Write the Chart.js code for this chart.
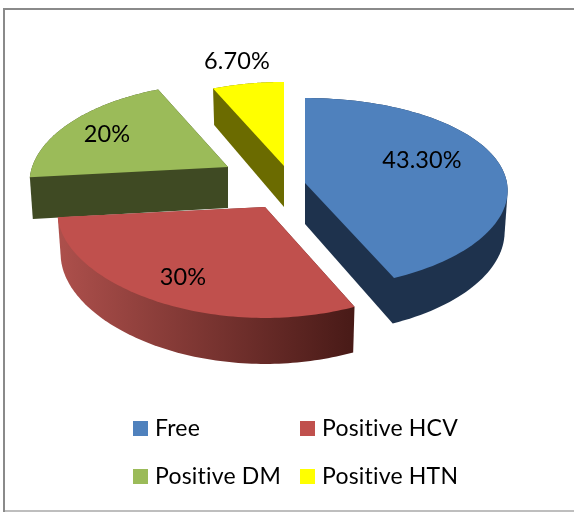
<!DOCTYPE html>
<html>
<head>
<meta charset="utf-8">
<style>
html,body{margin:0;padding:0;background:#fff;}
#wrap{position:absolute;left:0;top:0;width:574px;height:512px;}
</style>
<script src="https://cdn.jsdelivr.net/npm/chart.js@4"></script>
</head>
<body>
<div id="wrap"><canvas id="c" width="574" height="512"></canvas></div>
<script>
const categories = ["Free", "Positive HCV", "Positive DM", "Positive HTN"];
const values = [43.3, 30, 20, 6.7];
const valueLabels = ["43.30%", "30%", "20%", "6.70%"];
const topColors = ["#4F81BD", "#C0504D", "#9BBB59", "#FFFF00"];
const wallColors = ["#1E324D", null, "#3F4A23", "#6B6B00"];

// style: projection of the tilted pie
const TILT = 0.471, DEPTH = 41, DEPTH_NEAR = 5, BOTTOM_SCALE = 0.985;
const perspectiveX = [0.08, 0.06, 0.16, 0.16];
const perspectiveY = [0.106, 0.138, 0.138, 0.138];
const widthScale = [0.995, 1.02, 0.965, 0.98];
const heightScale = [0.983, 1, 1, 1];
// style: explosion of each slice from the pie centre, px
const explode = [[39, -42], [-1, -18], [-38, -58], [18, -59]];
// style: label position relative to the slice tip, px
const labelShift = [[117, -23], [-82, 70], [-121, -33], [-47, -105]];
const drawOrder = [3, 2, 0, 1];
const LABEL_FONT = "23.5px Lato";
const LEGEND_FONT = "23px Lato";
const legendCells = [[133, 428], [300, 428], [133, 476], [300, 476]];

function project(i, ax, ay, R, ux, uy, scale, drop) {
  const wx = 1 / (1 - perspectiveX[i] * uy);
  const wy = 1 / (1 - perspectiveY[i] * uy);
  return [ax + R * ux * wx * scale * widthScale[i],
          ay + R * TILT * uy * wy * heightScale[i] + drop];
}

function fillPoly(ctx, pts) {
  ctx.beginPath();
  pts.forEach((p, k) => k ? ctx.lineTo(p[0], p[1]) : ctx.moveTo(p[0], p[1]));
  ctx.closePath();
  ctx.fill();
}

// outline of the extruded slice: every slice is under 180 degrees, so it is convex
function hull(points) {
  const pts = points.slice().sort((p, q) => p[0] - q[0] || p[1] - q[1]);
  const cross = (o, p, q) => (p[0] - o[0]) * (q[1] - o[1]) - (p[1] - o[1]) * (q[0] - o[0]);
  const chain = list => {
    const out = [];
    list.forEach(p => {
      while (out.length > 1 && cross(out[out.length - 2], out[out.length - 1], p) <= 0) out.pop();
      out.push(p);
    });
    out.pop();
    return out;
  };
  return chain(pts).concat(chain(pts.slice().reverse()));
}

const pie3d = {
  id: "pie3d",
  beforeDatasetsDraw(chart) {
    const ctx = chart.ctx;
    const arcs = chart.getDatasetMeta(0).data;
    // frame
    ctx.save();
    ctx.fillStyle = "#8A8A8A";
    ctx.fillRect(3, 8, 571, 2);
    ctx.fillRect(3, 8, 2, 504);
    ctx.fillStyle = "#BEBEBE";
    ctx.fillRect(5, 510, 569, 2);
    ctx.restore();

    drawOrder.forEach(i => {
      const a = arcs[i];
      const R = a.outerRadius;
      const ax = a.x + explode[i][0], ay = a.y + explode[i][1];
      const n = 90, rim = [];
      for (let k = 0; k <= n; k++) {
        const t = a.startAngle + (a.endAngle - a.startAngle) * k / n;
        rim.push([Math.cos(t), Math.sin(t)]);
      }
      const dropAt = uy => DEPTH + DEPTH_NEAR * uy;
      const topRim = rim.map(u => project(i, ax, ay, R, u[0], u[1], 1, 0));
      const botRim = rim.map(u => project(i, ax, ay, R, u[0], u[1], BOTTOM_SCALE, dropAt(u[1])));
      const tip = [ax, ay], tipBot = [ax, ay + DEPTH];
      let wall = wallColors[i];
      if (!wall) {
        const g = ctx.createLinearGradient(ax - R, 0, ax + 0.44 * R, 0);
        g.addColorStop(0, "#AC4F4B");
        g.addColorStop(1, "#481A17");
        wall = g;
      }
      ctx.save();
      ctx.fillStyle = wall;
      fillPoly(ctx, hull([tip, tipBot].concat(topRim, botRim)));
      ctx.fillStyle = topColors[i];
      fillPoly(ctx, [tip].concat(topRim));
      ctx.restore();
    });

    // value labels
    ctx.save();
    ctx.font = LABEL_FONT;
    ctx.letterSpacing = "0.1px";
    ctx.fillStyle = "#000";
    ctx.textAlign = "center";
    ctx.textBaseline = "middle";
    arcs.forEach((a, i) => {
      ctx.fillText(valueLabels[i], a.x + explode[i][0] + labelShift[i][0], a.y + explode[i][1] + labelShift[i][1]);
    });
    ctx.restore();

    // legend
    ctx.save();
    ctx.font = LEGEND_FONT;
    ctx.letterSpacing = "0.2px";
    ctx.textBaseline = "middle";
    categories.forEach((name, i) => {
      const [x, y] = legendCells[i];
      ctx.fillStyle = topColors[i];
      ctx.fillRect(x, y - 7, 15, 15);
      ctx.fillStyle = "#000";
      ctx.fillText(name, x + 22, y + 1);
    });
    ctx.restore();
    return false;
  }
};

new Chart(document.getElementById("c"), {
  type: "pie",
  data: {
    labels: categories,
    datasets: [{ data: values, backgroundColor: topColors, borderWidth: 0 }]
  },
  options: {
    responsive: false,
    animation: false,
    layout: { padding: { left: 63, right: 105, top: 22, bottom: 84 } },
    plugins: { legend: { display: false }, tooltip: { enabled: false } }
  },
  plugins: [pie3d]
});
</script>
</body>
</html>
